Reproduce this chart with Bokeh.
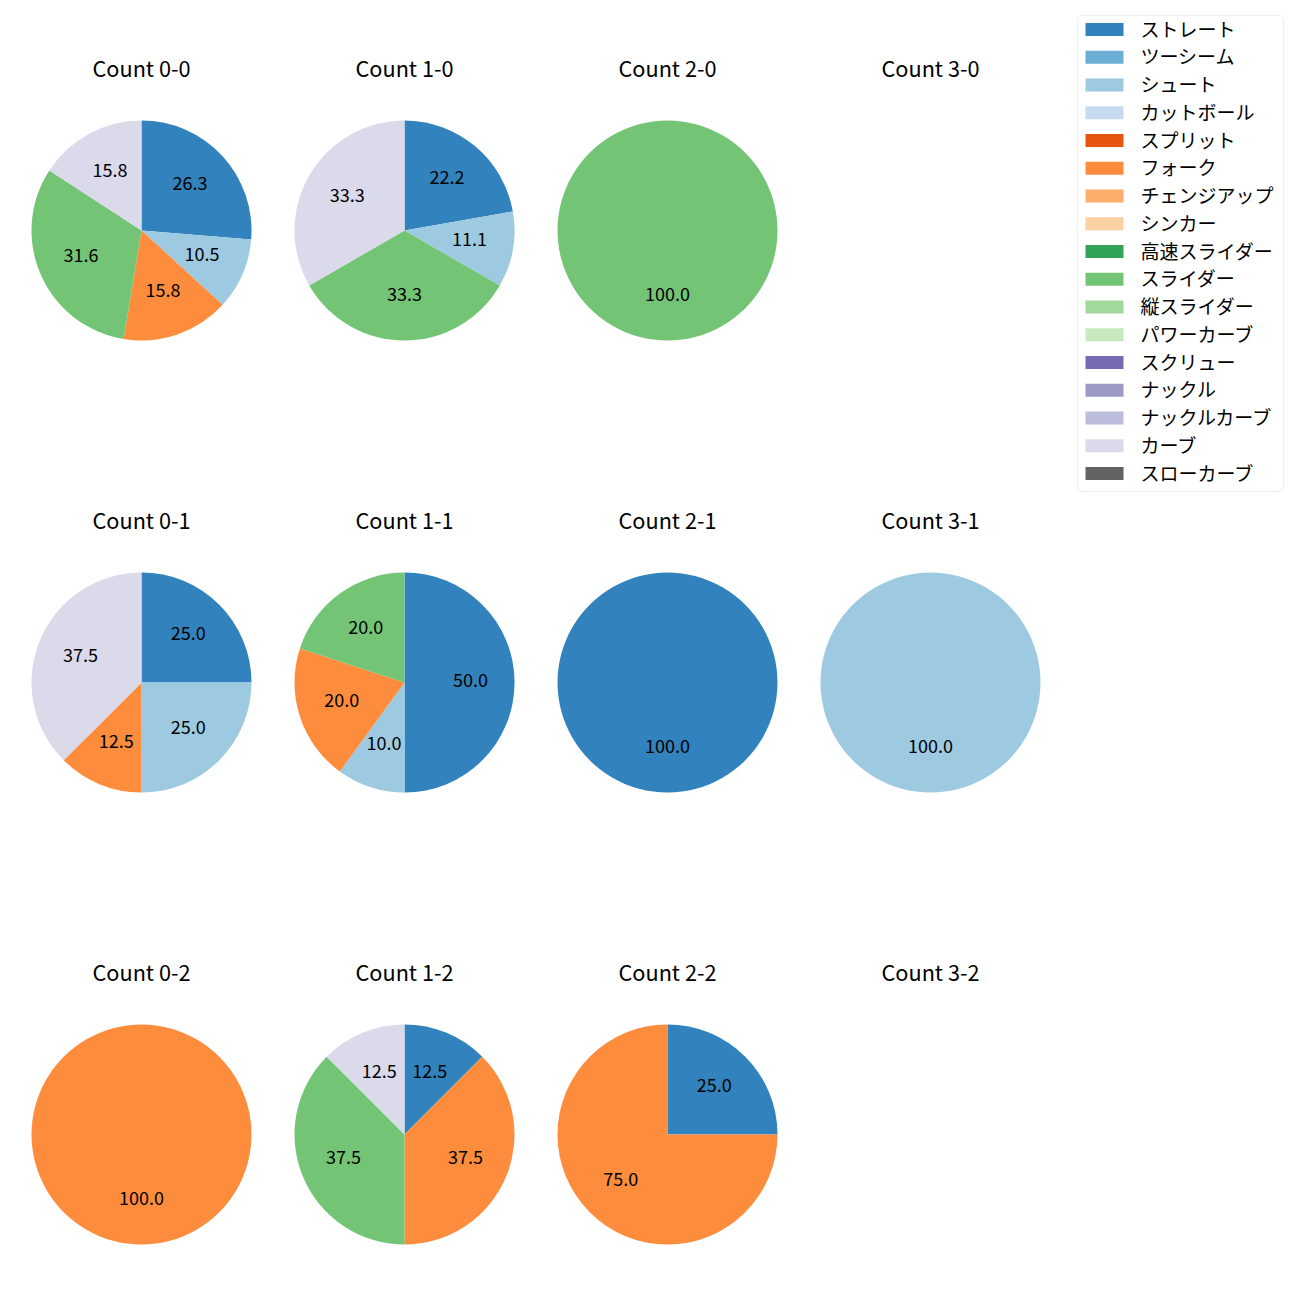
import math
from bokeh.plotting import figure
from bokeh.models import Range1d, ColumnDataSource, BoxAnnotation
from bokeh.core.properties import value
from bokeh.embed import file_html
from bokeh.resources import INLINE

# ---- data ----
pitch_types = ["ストレート", "ツーシーム", "シュート", "カットボール", "スプリット", "フォーク",
               "チェンジアップ", "シンカー", "高速スライダー", "スライダー", "縦スライダー",
               "パワーカーブ", "スクリュー", "ナックル", "ナックルカーブ", "カーブ", "スローカーブ"]
pitch_colors = ["#3182bd", "#6baed6", "#9ecae1", "#c6dbef", "#e6550d", "#fd8d3c",
                "#fdae6b", "#fdd0a2", "#31a354", "#74c476", "#a1d99b", "#c7e9c0",
                "#756bb1", "#9e9ac8", "#bcbddc", "#dadaeb", "#636363"]

counts = ["0-0", "1-0", "2-0", "3-0", "0-1", "1-1", "2-1", "3-1", "0-2", "1-2", "2-2", "3-2"]
straight = [26.3, 22.2, 0, 0, 25.0, 50.0, 100.0, 0, 0, 12.5, 25.0, 0]
shoot    = [10.5, 11.1, 0, 0, 25.0, 10.0, 0, 100.0, 0, 0, 0, 0]
fork     = [15.8, 0, 0, 0, 12.5, 20.0, 0, 0, 100.0, 37.5, 75.0, 0]
slider   = [31.6, 33.3, 100.0, 0, 0, 20.0, 0, 0, 0, 37.5, 0, 0]
curve    = [15.8, 33.3, 0, 0, 37.5, 0, 0, 0, 0, 12.5, 0, 0]

series = {"ストレート": straight, "シュート": shoot, "フォーク": fork,
          "スライダー": slider, "カーブ": curve}

# ---- layout ----
W = H = 1284
col_x = [141, 404, 667, 930]
row_y = [230, 682, 1134]
R = 110
FONT = "Noto Sans CJK JP"
TXT_DY = 2.5  # optical correction for CJK font metrics

def Y(py):
    return 1300 - py

p = figure(width=W, height=H, output_backend="svg", toolbar_location=None,
           x_range=Range1d(0, 1284), y_range=Range1d(16, 1300),
           x_axis_type=None, y_axis_type=None, min_border=0)
p.grid.visible = False
p.outline_line_color = None
p.background_fill_color = "white"

wx, wy, ws, we, wc = [], [], [], [], []
lx, ly, lt = [], [], []
tx, ty, tt = [], [], []
for i, cnt in enumerate(counts):
    cx = col_x[i % 4]
    cy = Y(row_y[i // 4])
    tx.append(cx)
    ty.append(cy + 161 + TXT_DY)
    tt.append("Count " + cnt)
    vals = [(j, series[name][i]) for j, name in enumerate(pitch_types)
            if name in series and series[name][i] > 0]
    total = sum(v for _, v in vals)
    cum = 0.0
    for j, v in vals:
        frac = v / total
        a0 = math.pi / 2 - cum * 2 * math.pi
        a1 = math.pi / 2 - (cum + frac) * 2 * math.pi
        if frac >= 0.9999:
            a1 = a0 - 2 * math.pi + 1e-4
        wx.append(cx); wy.append(cy); ws.append(a1); we.append(a0); wc.append(pitch_colors[j])
        mid = (a0 + a1) / 2
        lx.append(cx + 0.6 * R * math.cos(mid))
        ly.append(cy + 0.6 * R * math.sin(mid) + TXT_DY)
        lt.append(f"{v:.1f}")
        cum += frac

p.wedge(x="x", y="y", radius=R, start_angle="s", end_angle="e", direction="anticlock",
        fill_color="c", line_color=None,
        source=ColumnDataSource(dict(x=wx, y=wy, s=ws, e=we, c=wc)))
p.text(x="x", y="y", text="t", source=ColumnDataSource(dict(x=lx, y=ly, t=lt)),
       text_align="center", text_baseline="middle", text_font=value(FONT),
       text_font_size=value("18px"), text_color="#000000")
p.text(x="x", y="y", text="t", source=ColumnDataSource(dict(x=tx, y=ty, t=tt)),
       text_align="center", text_baseline="middle", text_font=value(FONT),
       text_font_size=value("21.7px"), text_color="#000000")

# ---- legend (drawn manually to match matplotlib's box) ----
box = BoxAnnotation(left=1077, right=1283, top=Y(15), bottom=Y(491),
                    fill_color="white", fill_alpha=0.8, line_color="#cccccc",
                    line_width=1, border_radius=4, level="underlay")
p.add_layout(box)
row_step = 27.75
gy = [Y(29 + row_step * k) for k in range(len(pitch_types))]
p.quad(left=1085, right=1123, top=[g + 6.5 for g in gy], bottom=[g - 6.5 for g in gy],
       fill_color=pitch_colors, line_color=None)
p.text(x=1140, y=[g + 1.5 for g in gy], text=pitch_types, text_align="left",
       text_baseline="middle", text_font=value(FONT), text_font_size=value("19px"),
       text_color="#000000")

open("out.html", "w").write(file_html(p, INLINE))
